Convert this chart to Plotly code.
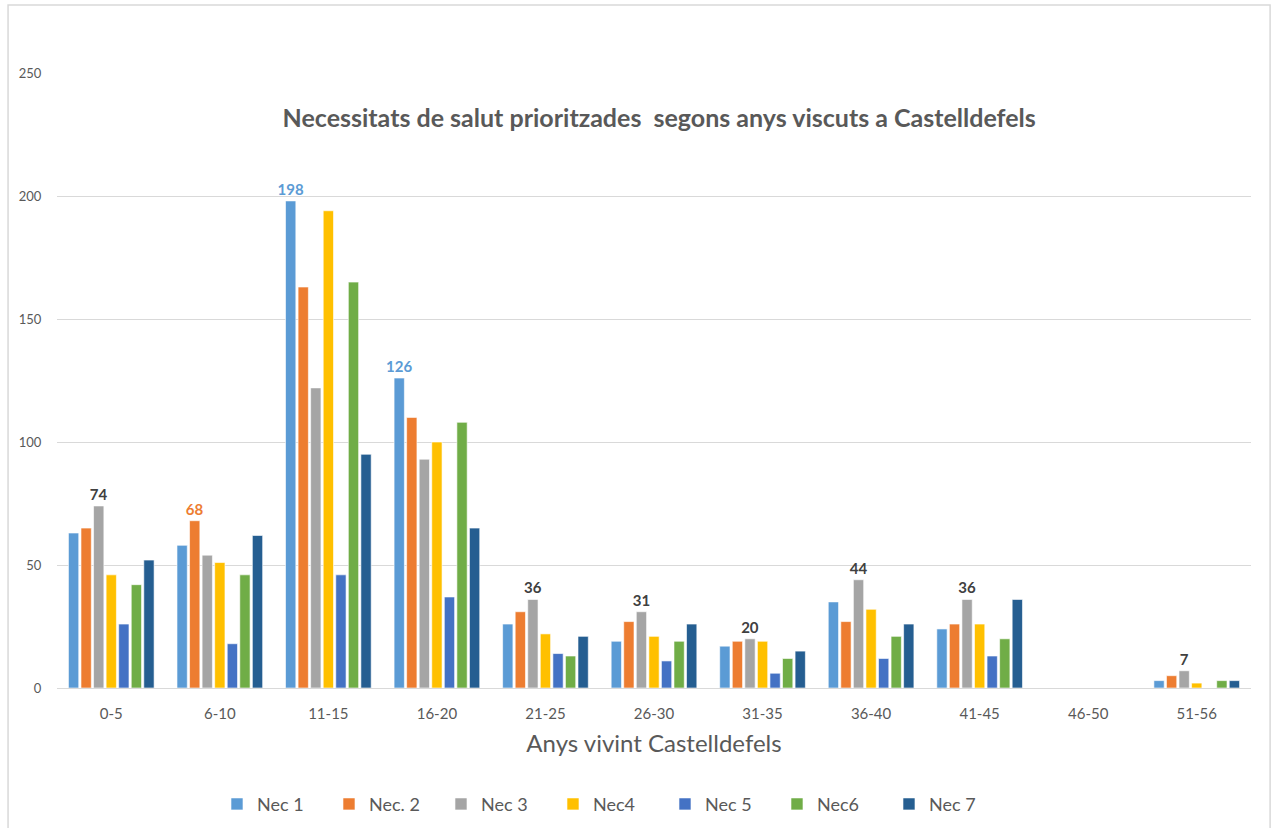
import plotly.graph_objects as go

# Categories: years lived in Castelldefels
categories = ["0-5", "6-10", "11-15", "16-20", "21-25", "26-30",
              "31-35", "36-40", "41-45", "46-50", "51-56"]

nec1 = [63, 58, 198, 126, 26, 19, 17, 35, 24, 0, 3]
nec2 = [65, 68, 163, 110, 31, 27, 19, 27, 26, 0, 5]
nec3 = [74, 54, 122, 93, 36, 31, 20, 44, 36, 0, 7]
nec4 = [46, 51, 194, 100, 22, 21, 19, 32, 26, 0, 2]
nec5 = [26, 18, 46, 37, 14, 11, 6, 12, 13, 0, 0]
nec6 = [42, 46, 165, 108, 13, 19, 12, 21, 20, 0, 3]
nec7 = [52, 62, 95, 65, 21, 26, 15, 26, 36, 0, 3]

series_names = ["Nec 1", "Nec. 2", "Nec 3", "Nec4", "Nec 5", "Nec6", "Nec 7"]
series_values = [nec1, nec2, nec3, nec4, nec5, nec6, nec7]
series_colors = ["#5B9BD5", "#ED7D31", "#A5A5A5", "#FFC000",
                 "#4472C4", "#70AD47", "#255E91"]

# Values shown above selected bars: (series index, category index, colour)
labelled = [
    (2, 0, "#404040"), (1, 1, "#ED7D31"), (0, 2, "#5B9BD5"), (0, 3, "#5B9BD5"),
    (2, 4, "#404040"), (2, 5, "#404040"), (2, 6, "#404040"), (2, 7, "#404040"),
    (2, 8, "#404040"), (2, 10, "#404040"),
]

fig = go.Figure()
for si, (name, vals, col) in enumerate(zip(series_names, series_values, series_colors)):
    texts = [""] * len(vals)
    tcolors = ["#404040"] * len(vals)
    for s, c, tc in labelled:
        if s == si:
            texts[c] = str(vals[c])
            tcolors[c] = tc
    fig.add_trace(go.Bar(
        name=name, x=categories, y=vals, marker_color=col,
        marker_line=dict(color="white", width=0.6),
        text=texts, textposition="outside", cliponaxis=False,
        constraintext="none",
        textfont=dict(family="Lato", size=15, color=tcolors, weight="bold"),
        hoverinfo="x+y+name",
    ))

fig.update_layout(
    width=1275, height=828,
    margin=dict(l=57, r=24, t=73, b=140, autoexpand=False),
    paper_bgcolor="white", plot_bgcolor="white",
    barmode="group", bargap=0.19, bargroupgap=0.18,
    font=dict(family="Lato", color="#595959"),
    title=dict(
        text="<b>Necessitats de salut prioritzades  segons anys viscuts a Castelldefels</b>",
        x=0.517, xanchor="center", y=0.857, yanchor="middle",
        font=dict(family="Lato", size=25, color="#595959"),
    ),
    xaxis=dict(
        showgrid=False, showline=True, linecolor="#D9D9D9", linewidth=1,
        ticks="", tickfont=dict(size=15, color="#595959"),
        ticklabelstandoff=12, automargin=False,
        title=dict(text="Anys vivint Castelldefels", standoff=14,
                   font=dict(size=24, color="#595959")),
    ),
    yaxis=dict(
        range=[0, 250], tickvals=[0, 50, 100, 150, 200, 250],
        showgrid=True, gridcolor="#D9D9D9", gridwidth=1,
        zeroline=False, showline=False, ticks="outside", ticklen=12,
        tickcolor="white", automargin=False,
        tickfont=dict(size=13, color="#595959"),
    ),
    legend=dict(
        orientation="h", x=0.134, xanchor="left", y=-0.189, yanchor="middle",
        font=dict(size=18, color="#595959"), itemwidth=30,
        traceorder="normal", entrywidth=67,
    ),
    shapes=[dict(
        type="rect", xref="paper", yref="paper",
        x0=-0.041, x1=1.016, y0=-0.26, y1=1.1105,
        line=dict(color="#D9D9D9", width=1.5), fillcolor="rgba(0,0,0,0)",
        layer="below",
    )],
)

fig.write_html("out.html")
